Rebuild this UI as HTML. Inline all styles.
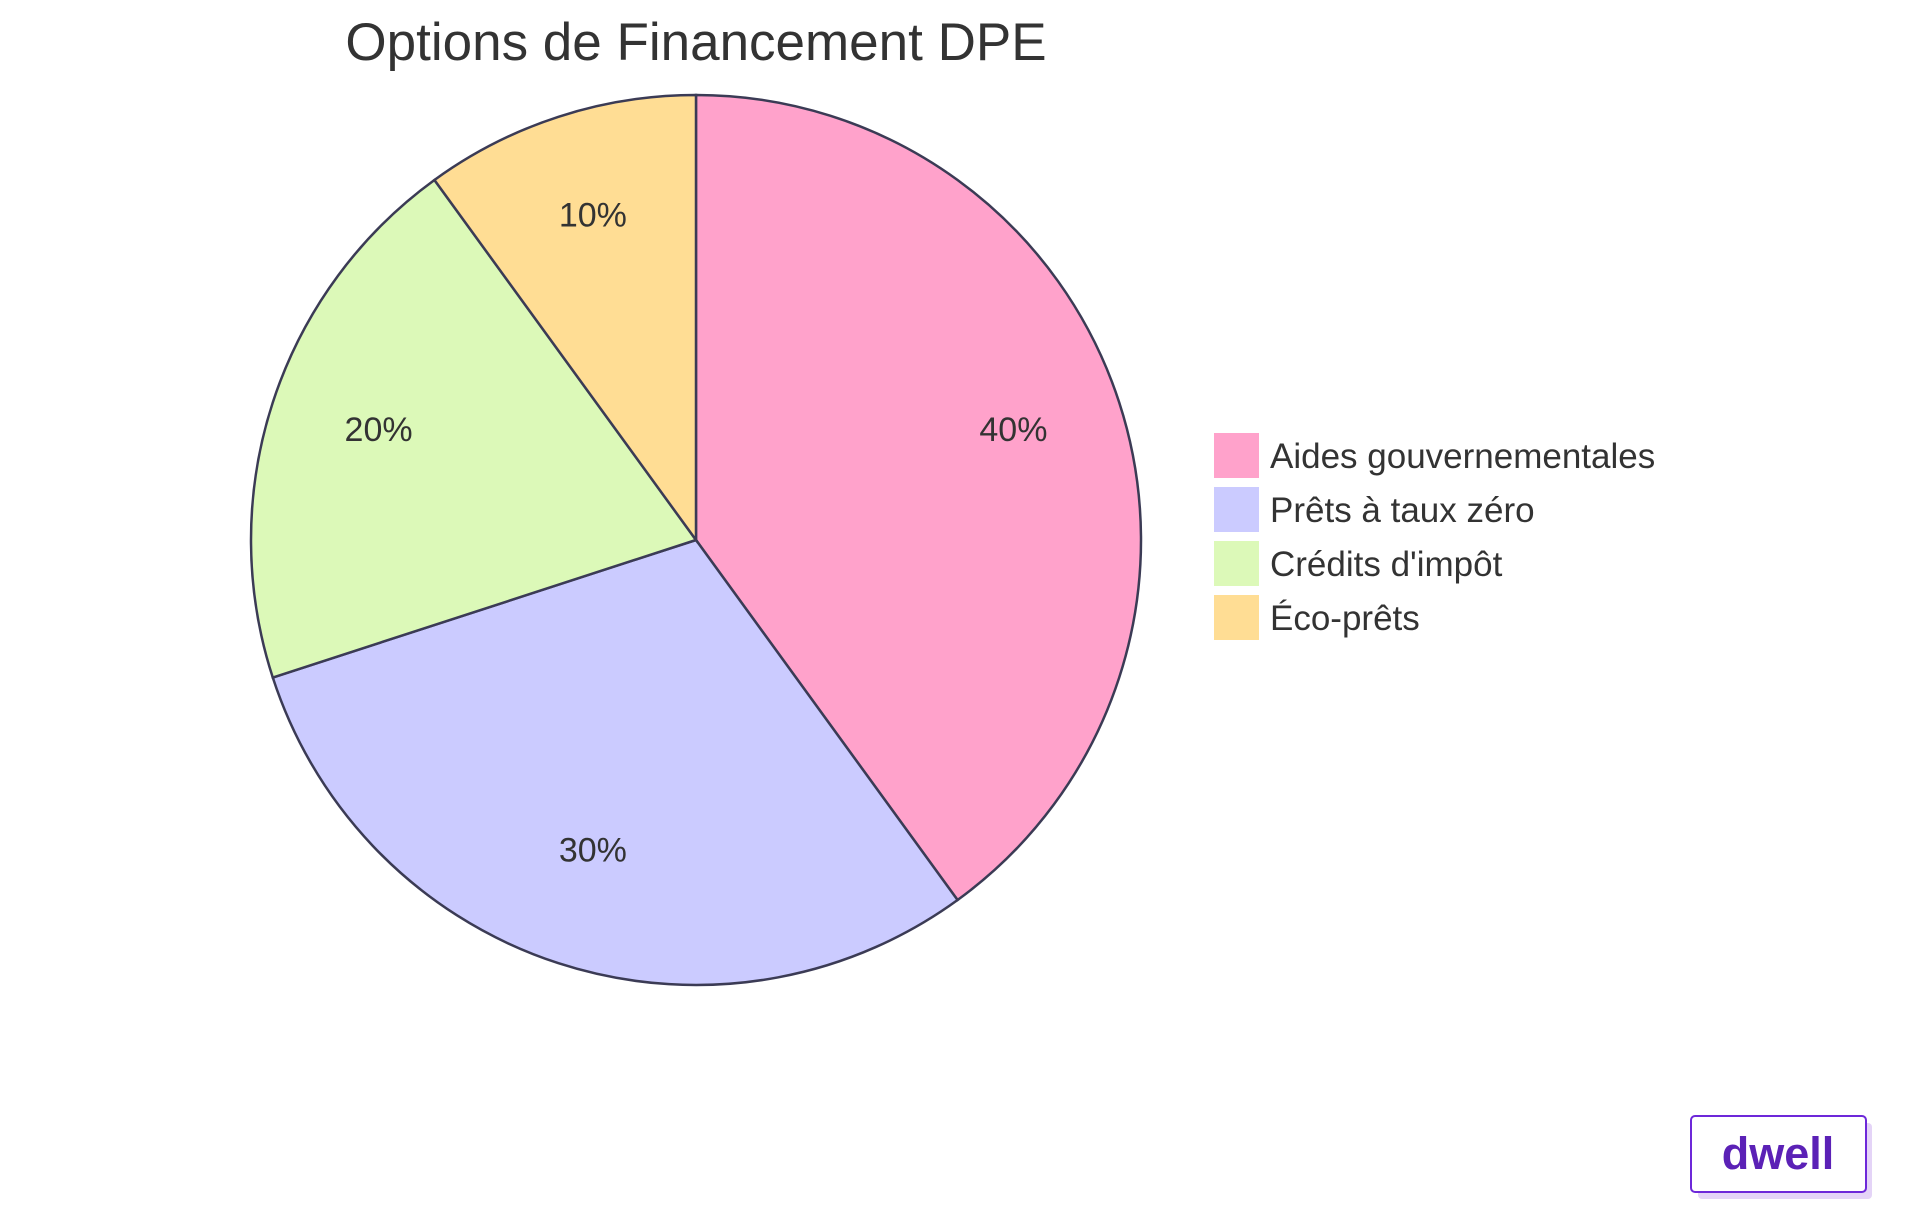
<!DOCTYPE html>
<html><head><meta charset="utf-8"><style>
html,body{margin:0;padding:0;background:#fff;width:1920px;height:1215px;overflow:hidden}
svg{display:block}
text{font-family:"Liberation Sans",sans-serif}
</style></head><body>
<svg id="chart" width="1920" height="1215">
<text x="696" y="60" text-anchor="middle" font-size="53" fill="#333">Options de Financement DPE</text>
<g id="slices"></g><g id="labels"></g><g id="legend"></g>
<g>
<rect x="1698" y="1123" width="174" height="76" rx="4" fill="#e4d4f7"/>
<rect x="1691" y="1116" width="175" height="76" rx="4" fill="#fff" stroke="#6d28d9" stroke-width="2"/>
<text x="1778" y="1169" text-anchor="middle" font-size="45" font-weight="bold" fill="#5b21b6">dwell</text>
</g>
</svg>
<script>
const categories=["Aides gouvernementales","Prêts à taux zéro","Crédits d'impôt","Éco-prêts"];
const values=[40,30,20,10];
const colors=["#ffa2cb","#cbcbff","#dcf9b8","#ffdd94"];
const NS="http://www.w3.org/2000/svg";
const cx=696,cy=540,r=445;
const total=values.reduce((a,b)=>a+b,0);
let a0=-Math.PI/2;
const sg=document.getElementById('slices'),lg=document.getElementById('labels'),leg=document.getElementById('legend');
values.forEach((v,i)=>{
 const a1=a0+v/total*2*Math.PI;
 const x0=cx+r*Math.cos(a0),y0=cy+r*Math.sin(a0),x1=cx+r*Math.cos(a1),y1=cy+r*Math.sin(a1);
 const p=document.createElementNS(NS,'path');
 p.setAttribute('d',`M${cx},${cy}L${x0},${y0}A${r},${r} 0 ${a1-a0>Math.PI?1:0} 1 ${x1},${y1}Z`);
 p.setAttribute('fill',colors[i]);p.setAttribute('stroke','#3b3b55');p.setAttribute('stroke-width','2.5');
 
 
 sg.appendChild(p);
 const am=(a0+a1)/2,lr=r*0.75;
 const t=document.createElementNS(NS,'text');
 t.setAttribute('x',cx+lr*Math.cos(am));t.setAttribute('y',cy+lr*Math.sin(am)+4);
 t.setAttribute('text-anchor','middle');t.setAttribute('font-size','34');t.setAttribute('fill','#333');
 t.textContent=Math.round(v/total*100)+'%';
 
 
 lg.appendChild(t);
 const g=document.createElementNS(NS,'g');
 
 
 const y=433+i*54;
 const rc=document.createElementNS(NS,'rect');
 rc.setAttribute('x',1214);rc.setAttribute('y',y);rc.setAttribute('width',45);rc.setAttribute('height',45);rc.setAttribute('fill',colors[i]);
 const tt=document.createElementNS(NS,'text');
 tt.setAttribute('x',1270);tt.setAttribute('y',y+35);tt.setAttribute('font-size','35');tt.setAttribute('fill','#333');
 tt.textContent=categories[i];
 g.appendChild(rc);g.appendChild(tt);leg.appendChild(g);
 a0=a1;
});
</script>
</body></html>
